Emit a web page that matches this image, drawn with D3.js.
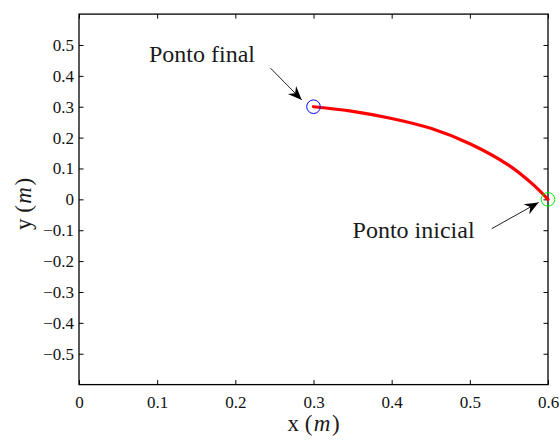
<!DOCTYPE html>
<html><head><meta charset="utf-8">
<script src="https://cdn.jsdelivr.net/npm/d3@7"></script>
<style>
html,body{margin:0;padding:0;background:#fff;}
svg{display:block;font-family:"Liberation Serif","Times New Roman",serif;}
svg text{font-family:"Liberation Serif","Times New Roman",serif;}
</style></head>
<body><div id="chart"></div>
<script>
// data
const pathX = [0.300, 0.350, 0.400, 0.450, 0.500, 0.550, 0.580, 0.600];
const pathY = [0.300, 0.285, 0.262, 0.230, 0.180, 0.110, 0.050, 0.000];
const startPoint = [0.600, 0.000];
const endPoint = [0.300, 0.300];
const xTicks = [0, 0.1, 0.2, 0.3, 0.4, 0.5, 0.6];
const yTicks = [-0.5, -0.4, -0.3, -0.2, -0.1, 0, 0.1, 0.2, 0.3, 0.4, 0.5];
const annotations = [
  {text: "Ponto final", tx: 0.0895, ty: 0.445, from: [0.245, 0.425], to: [0.285, 0.322]},
  {text: "Ponto inicial", tx: 0.350, ty: -0.126, from: [0.528, -0.095], to: [0.588, -0.010]}
];

const W = 559, H = 441;
const m = {l: 79, t: 14.1, r: 11, b: 56.4};
const iw = W - m.l - m.r, ih = H - m.t - m.b;
const FONT = '"Liberation Serif","Times New Roman",serif';

const svg = d3.select("#chart").append("svg").attr("width", W).attr("height", H);
const x = d3.scaleLinear().domain([0, 0.6]).range([m.l, m.l + iw]);
const y = d3.scaleLinear().domain([-0.6, 0.6]).range([m.t + ih, m.t]);

const defs = svg.append("defs");
defs.append("marker").attr("id", "ah").attr("viewBox", "-15 -7 17 14")
  .attr("refX", 0).attr("refY", 0).attr("markerWidth", 17).attr("markerHeight", 14)
  .attr("markerUnits", "userSpaceOnUse").attr("orient", "auto")
  .append("path").attr("d", "M0,0 L-14,-5.8 L-9.5,0 L-14,5.8 Z").attr("fill", "#000");

const fmt = v => (v < 0 ? "\u2212" : "") + (v === 0 ? "0" : d3.format(".1f")(Math.abs(v)));

// axes
const tickLen = 4.5;
const axB = d3.axisBottom(x).tickValues(xTicks).tickSize(-tickLen).tickPadding(11).tickFormat(fmt);
const axT = d3.axisTop(x).tickValues(xTicks).tickSize(-tickLen).tickFormat("");
const axL = d3.axisLeft(y).tickValues(yTicks).tickSize(-tickLen).tickPadding(5).tickFormat(fmt);
const axR = d3.axisRight(y).tickValues(yTicks).tickSize(-tickLen).tickFormat("");

function styleAxis(g){
  g.attr("font-family", null).attr("font-size", null);
  g.select(".domain").remove();
  g.selectAll("line").attr("stroke", "#000").attr("stroke-width", 1);
  g.selectAll("text").attr("fill", "#111").style("font-family", FONT).style("font-size", "17px");
}
svg.append("g").attr("transform", `translate(0,${m.t + ih})`).call(axB).call(styleAxis);
svg.append("g").attr("transform", `translate(0,${m.t})`).call(axT).call(styleAxis);
svg.append("g").attr("transform", `translate(${m.l},0)`).call(axL).call(styleAxis);
svg.append("g").attr("transform", `translate(${m.l + iw},0)`).call(axR).call(styleAxis);

svg.append("rect").attr("x", m.l).attr("y", m.t).attr("width", iw).attr("height", ih)
  .attr("fill", "none").attr("stroke", "#000").attr("stroke-width", 1.3);

// path
const pts = pathX.map((v, i) => [v, pathY[i]]);
svg.append("path").datum(pts)
  .attr("d", d3.line().x(d => x(d[0])).y(d => y(d[1])).curve(d3.curveCatmullRom.alpha(0.5)))
  .attr("fill", "none").attr("stroke", "#ff0000").attr("stroke-width", 3.2).attr("stroke-linecap", "round");

// markers
svg.append("circle").attr("cx", x(endPoint[0])).attr("cy", y(endPoint[1])).attr("r", 6.8)
  .attr("fill", "none").attr("stroke", "#0000ff").attr("stroke-width", 1);
svg.append("circle").attr("cx", x(startPoint[0])).attr("cy", y(startPoint[1])).attr("r", 6.8)
  .attr("fill", "none").attr("stroke", "#00ee00").attr("stroke-width", 1);

// annotations
annotations.forEach(a => {
  svg.append("line").attr("x1", x(a.from[0])).attr("y1", y(a.from[1]))
    .attr("x2", x(a.to[0])).attr("y2", y(a.to[1]))
    .attr("stroke", "#222").attr("stroke-width", 1).attr("marker-end", "url(#ah)");
  svg.append("text").attr("x", x(a.tx)).attr("y", y(a.ty))
    .attr("fill", "#1a1a1a").style("font-size", "24px").text(a.text);
});

// axis labels
function label(sel, letter){
  sel.append("tspan").text(letter + " (");
  sel.append("tspan").attr("dx", 1.5).style("font-style", "italic").text("m");
  sel.append("tspan").attr("dx", 1.5).text(")");
}
const xl = svg.append("text").attr("x", x(0.3)).attr("y", 431).attr("text-anchor", "middle")
  .attr("fill", "#1a1a1a").style("font-size", "23px");
label(xl, "x");

const yl = svg.append("text").attr("transform", `translate(31,204) rotate(-90)`)
  .attr("text-anchor", "middle").attr("fill", "#1a1a1a").style("font-size", "23px");
label(yl, "y");
</script>
</body></html>
